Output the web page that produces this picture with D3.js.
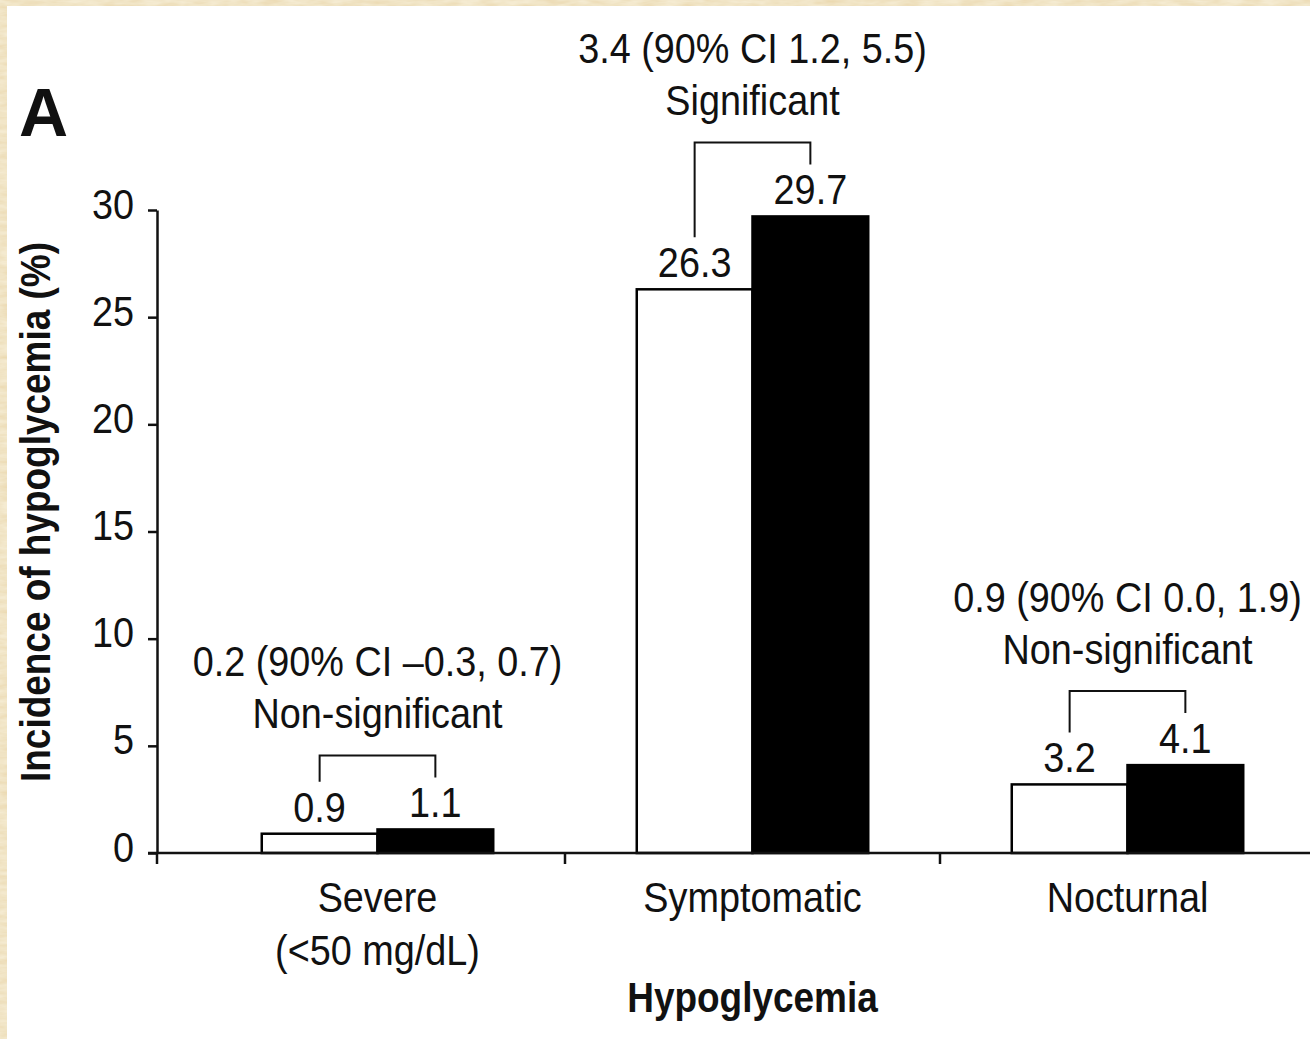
<!DOCTYPE html>
<html>
<head>
<meta charset="utf-8">
<script src="https://cdn.jsdelivr.net/npm/d3@7"></script>
<style>
  html, body { margin: 0; padding: 0; background: #fff; }
  svg { display: block; }
</style>
</head>
<body>
<svg id="chart" width="1310" height="1039"></svg>
<script>
// Hypoglycemia incidence by category, two treatment arms
const categories = ["Severe (<50 mg/dL)", "Symptomatic", "Nocturnal"];
const categoryLines = [["Severe", "(<50 mg/dL)"], ["Symptomatic"], ["Nocturnal"]];
const series = ["Arm 1", "Arm 2"];
const arm1Values = [0.9, 26.3, 3.2];
const arm2Values = [1.1, 29.7, 4.1];
const differenceLabels = ["0.2 (90% CI \u20130.3, 0.7)", "3.4 (90% CI 1.2, 5.5)", "0.9 (90% CI 0.0, 1.9)"];
const significanceLabels = ["Non-significant", "Significant", "Non-significant"];
const yTicks = [0, 5, 10, 15, 20, 25, 30];
const yTitle = "Incidence of hypoglycemia (%)";
const xTitle = "Hypoglycemia";
const panelLetter = "A";

const W = 1310, H = 1039;
const FONT = "'Liberation Sans', Arial, Helvetica, sans-serif";
const FS = 42;          // base text size
const SX = 0.9;         // horizontal squeeze for the condensed look
const SXB = 0.88;
const INK = "#111";

const svg = d3.select("#chart");

// paper edge along the left and top
const defs = svg.append("defs");
const f = defs.append("filter").attr("id", "paper").attr("x", 0).attr("y", 0).attr("width", 1).attr("height", 1);
f.append("feTurbulence").attr("type", "fractalNoise").attr("baseFrequency", "0.05 0.2").attr("numOctaves", 3).attr("seed", 7).attr("result", "n");
f.append("feColorMatrix").attr("in", "n").attr("type", "matrix")
  .attr("values", "0 0 0 0 0.91  0 0 0 0 0.83  0 0 0 0 0.64  0 0 0 -1.2 1.25").attr("result", "tint");
f.append("feFlood").attr("flood-color", "#e9d6aa").attr("result", "base");
f.append("feComposite").attr("in", "tint").attr("in2", "base").attr("operator", "over");
svg.append("rect").attr("width", W).attr("height", H).attr("fill", "#e9d6aa").attr("filter", "url(#paper)");
svg.append("rect").attr("x", 7).attr("y", 6).attr("width", W - 7).attr("height", H - 6).attr("fill", "#fff");

// scales
const plotLeft = 157;
const y = d3.scaleLinear().domain([0, 30]).range([853, 210]);
const x = d3.scaleBand().domain(categories).range([190, 1315]).paddingInner(0).paddingOuter(0);
const x1 = d3.scaleBand().domain(series).range([0, x.bandwidth()]).paddingInner(0).paddingOuter(0.62);

function squeezedText(sel, px, py, str, opts = {}) {
  const s = opts.sx || SX;
  return sel.append("text")
    .attr("transform", `translate(${px},${py}) ${opts.rotate ? `rotate(${opts.rotate})` : ""} scale(${s},1)`)
    .attr("text-anchor", opts.anchor || "middle")
    .attr("font-family", FONT)
    .attr("font-size", opts.size || FS)
    .attr("font-weight", opts.weight || "normal")
    .attr("fill", INK)
    .text(str);
}

// bars
const rows = categories.map((c, i) => ({ cat: c, i, vals: [arm1Values[i], arm2Values[i]] }));
const groups = svg.append("g").selectAll("g").data(rows).join("g")
  .attr("transform", d => `translate(${x(d.cat)},0)`);

groups.selectAll("rect").data(d => d.vals.map((v, k) => ({ key: series[k], v })))
  .join("rect")
  .attr("x", d => x1(d.key))
  .attr("y", d => y(d.v))
  .attr("width", x1.bandwidth())
  .attr("height", d => y(0) - y(d.v))
  .attr("fill", d => d.key === series[0] ? "#fff" : "#000")
  .attr("stroke", "#000")
  .attr("stroke-width", 2.5);

// value labels above bars
const fmt = d3.format(".1f");
rows.forEach(r => {
  r.vals.forEach((v, k) => {
    const cx = x(r.cat) + x1(series[k]) + x1.bandwidth() / 2;
    squeezedText(svg, cx, y(v) - 12, fmt(v));
  });
});

// comparison brackets and annotations
rows.forEach(r => {
  const cx0 = x(r.cat) + x1(series[0]) + x1.bandwidth() / 2;
  const cx1 = x(r.cat) + x1(series[1]) + x1.bandwidth() / 2;
  const top = y(d3.max(r.vals)) - 74;
  const b0 = y(r.vals[0]) - 52;
  const b1 = y(r.vals[1]) - 52;
  svg.append("path")
    .attr("d", `M${cx0},${b0}V${top}H${cx1}V${b1}`)
    .attr("fill", "none").attr("stroke", INK).attr("stroke-width", 2);
  const mid = (cx0 + cx1) / 2;
  squeezedText(svg, mid, top - 27, significanceLabels[r.i]);
  squeezedText(svg, mid, top - 79, differenceLabels[r.i]);
});

// y axis
const yAxis = svg.append("g").attr("transform", `translate(${plotLeft},0)`)
  .call(d3.axisLeft(y).tickValues(yTicks).tickSize(9).tickSizeOuter(0).tickFormat(d3.format("d")));
yAxis.select(".domain").attr("stroke", INK).attr("stroke-width", 2.5);
yAxis.selectAll(".tick line").attr("stroke", INK).attr("stroke-width", 2.5);
yAxis.selectAll(".tick text")
  .attr("font-family", FONT).attr("font-size", FS).attr("fill", INK)
  .attr("transform", `scale(${SX},1)`)
  .attr("x", -23 / SX).attr("dy", 8).attr("dominant-baseline", "auto");

// x axis: baseline plus ticks at the category boundaries
const xAxis = svg.append("g");
xAxis.append("line")
  .attr("x1", plotLeft - 9).attr("x2", W).attr("y1", y(0)).attr("y2", y(0))
  .attr("stroke", INK).attr("stroke-width", 2.5);
const boundaries = [plotLeft].concat(categories.slice(1).map(c => x(c)));
xAxis.selectAll("line.tick").data(boundaries).join("line")
  .attr("class", "tick")
  .attr("x1", d => d).attr("x2", d => d)
  .attr("y1", y(0)).attr("y2", y(0) + 11)
  .attr("stroke", INK).attr("stroke-width", 2.5);

// category labels
rows.forEach(r => {
  const cx = x(r.cat) + x.bandwidth() / 2;
  categoryLines[r.i].forEach((line, j) => {
    squeezedText(svg, cx, 912 + j * 53, line);
  });
});

// axis titles
squeezedText(svg, x(categories[1]) + x.bandwidth() / 2, 1012, xTitle, { weight: "bold", sx: SXB });
squeezedText(svg, 50, 512, yTitle, { weight: "bold", sx: SXB, rotate: -90 });

// panel letter
svg.append("text").attr("x", 19).attr("y", 136)
  .attr("font-family", FONT).attr("font-size", 68).attr("font-weight", "bold")
  .attr("fill", INK).text(panelLetter);
</script>
</body>
</html>
